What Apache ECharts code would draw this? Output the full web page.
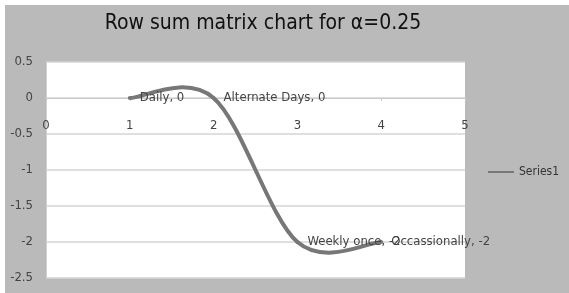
<!DOCTYPE html>
<html>
<head>
<meta charset="utf-8">
<script src="https://cdn.jsdelivr.net/npm/echarts@6/dist/echarts.min.js"></script>
<style>
html,body{margin:0;padding:0;background:#fff;}
#chart{width:569px;height:293px;}
</style>
</head>
<body>
<div id="chart"></div>
<script>
const titleText = 'Row sum matrix chart for α=0.25';
const seriesName = 'Series1';
const categories = ['Daily', 'Alternate Days', 'Weekly once', 'Occassionally'];
const xValues = [1, 2, 3, 4];
const yValues = [0, 0, -2, -2];
const xTicks = [0, 1, 2, 3, 4, 5];
const yTicks = [-2.5, -2, -1.5, -1, -0.5, 0, 0.5];

const FONT = "'Liberation Sans Narrow', 'DejaVu Sans Condensed', sans-serif";
const LINE_COLOR = '#777777';
const chart = echarts.init(document.getElementById('chart'), null, {renderer: 'canvas'});

// Excel-style smoothed line: Catmull-Rom (tension 1/6) bezier in pixel space
function renderItem(params, api) {
  const i = params.dataIndex;
  const n = xValues.length;
  const P = k => api.coord([xValues[Math.max(0, Math.min(n - 1, k))], yValues[Math.max(0, Math.min(n - 1, k))]]);
  const children = [];
  if (i < n - 1) {
    const p0 = P(i - 1), p1 = P(i), p2 = P(i + 1), p3 = P(i + 2);
    children.push({
      type: 'bezierCurve',
      shape: {
        x1: p1[0], y1: p1[1], x2: p2[0], y2: p2[1],
        cpx1: p1[0] + (p2[0] - p0[0]) / 6, cpy1: p1[1] + (p2[1] - p0[1]) / 6,
        cpx2: p2[0] - (p3[0] - p1[0]) / 6, cpy2: p2[1] - (p3[1] - p1[1]) / 6
      },
      style: {stroke: LINE_COLOR, lineWidth: 4, fill: null, lineCap: 'round'}
    });
  }
  const pt = P(i);
  children.push({
    type: 'text', z2: 10,
    x: pt[0] + 10, y: pt[1],
    style: {
      text: categories[i] + ', ' + yValues[i],
      fontFamily: FONT, fontSize: 13, fill: '#444',
      align: 'left', verticalAlign: 'middle'
    }
  });
  return {type: 'group', children: children};
}

chart.setOption({
  backgroundColor: '#ffffff',
  animation: false,
  graphic: [{
    type: 'rect', z: -10, silent: true,
    shape: {x: 5, y: 5, width: 569, height: 293},
    style: {fill: '#bababa'}
  }],
  title: {
    text: titleText,
    left: 258, top: 8, textAlign: 'center',
    textStyle: {fontFamily: FONT, fontSize: 21, fontWeight: 'normal', color: '#111'}
  },
  legend: {
    data: [seriesName],
    left: 483, top: 161,
    itemWidth: 26, itemHeight: 12, itemGap: 4,
    textStyle: {fontFamily: FONT, fontSize: 12, color: '#333'},
    icon: 'path://M0,5 L26,5 L26,7 L0,7 Z',
    itemStyle: {color: LINE_COLOR}
  },
  grid: {left: 46, right: 104, top: 62, bottom: 15, show: true, backgroundColor: '#fff', borderWidth: 0, outerBoundsMode: 'none', containLabel: false},
  xAxis: [{
    type: 'value', min: xTicks[0], max: xTicks[xTicks.length - 1], interval: 1,
    axisLine: {onZero: true, lineStyle: {color: '#c8c8c8', width: 1}},
    axisTick: {show: true, length: 3, inside: false, lineStyle: {color: '#c8c8c8'}},
    axisLabel: {show: false},
    splitLine: {show: false}
  }, {
    type: 'value', min: xTicks[0], max: xTicks[xTicks.length - 1], interval: 1,
    position: 'bottom', offset: -180,
    axisLine: {show: false, onZero: false},
    axisTick: {show: false},
    axisLabel: {margin: 21, fontFamily: FONT, fontSize: 13, color: '#444'},
    splitLine: {show: false}
  }],
  yAxis: {
    type: 'value', min: yTicks[0], max: yTicks[yTicks.length - 1], interval: 0.5,
    axisLine: {show: true, onZero: false, lineStyle: {color: '#d0d0d0'}},
    axisTick: {show: false},
    axisLabel: {margin: 13, fontFamily: FONT, fontSize: 13, color: '#444'},
    splitLine: {show: true, lineStyle: {color: '#d4d4d4', width: 1.5}}
  },
  series: [{
    name: seriesName,
    type: 'custom',
    xAxisIndex: 0,
    clip: false,
    renderItem: renderItem,
    itemStyle: {color: LINE_COLOR},
    encode: {x: 0, y: 1},
    data: xValues.map((x, i) => ({value: [x, yValues[i]], name: categories[i]}))
  }]
});
</script>
</body>
</html>
